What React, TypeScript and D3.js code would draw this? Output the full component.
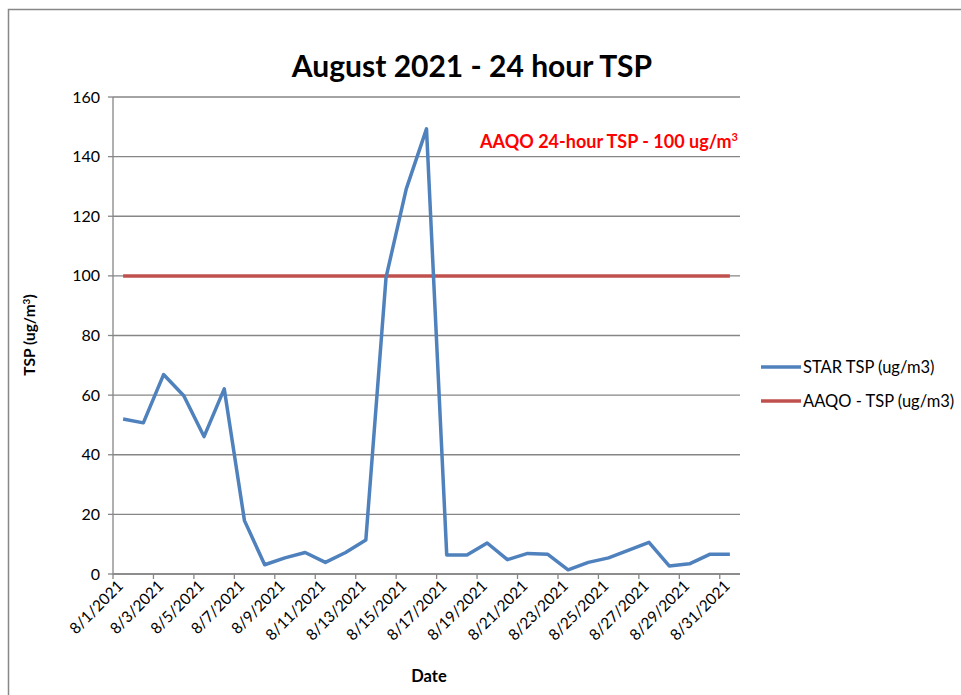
import React from "react";
import * as d3 from "d3";

const dates: string[] = Array.from({ length: 31 }, (_, i) => `8/${i + 1}/2021`);
const starTSP: number[] = [
  52.0, 50.7, 66.9, 59.8, 46.1, 62.1, 17.9, 3.1, 5.4, 7.2, 3.9, 7.2, 11.4, 99.5, 129.2, 149.3,
  6.4, 6.4, 10.4, 4.8, 6.9, 6.6, 1.4, 3.9, 5.4, 8.0, 10.6, 2.7, 3.4, 6.6, 6.6,
];
const aaqoTSP: number[] = dates.map(() => 100);
const yTicks: number[] = [0, 20, 40, 60, 80, 100, 120, 140, 160];
const seriesNames: string[] = ["STAR TSP (ug/m3)", "AAQO - TSP (ug/m3)"];
const seriesColors: string[] = ["#4F81BD", "#C0504D"];

const FONT = "Lato, 'Open Sans', sans-serif";

export default function App() {
  const W = 961, H = 695;
  const left = 113, right = 740, top = 97, bottom = 574;
  const x = d3.scaleBand<string>().domain(dates).range([left, right]);
  const y = d3.scaleLinear().domain([0, 160]).range([bottom, top]);
  const cx = (d: string) => (x(d) as number) + x.bandwidth() / 2;
  const line = d3.line<number>().x((_, i) => cx(dates[i])).y((v) => y(v));
  const tickIdx = dates.map((_, i) => i).filter((i) => i % 2 === 0);

  return (
    <svg width={W} height={H} style={{ position: "absolute", left: 0, top: 0, background: "#fff" }}>
      <rect x={8.5} y={9.5} width={1000} height={800} fill="#fff" stroke="#888" strokeWidth={1.5} />
      {/* gridlines */}
      {yTicks.map((t) => (
        <line key={t} x1={left} x2={right} y1={y(t)} y2={y(t)} stroke="#868686" strokeWidth={1.3} />
      ))}
      {/* y axis */}
      <line x1={left} x2={left} y1={top} y2={bottom} stroke="#868686" strokeWidth={1.3} />
      {yTicks.map((t) => (
        <g key={"yt" + t}>
          <line x1={left - 5} x2={left} y1={y(t)} y2={y(t)} stroke="#868686" strokeWidth={1.3} />
          <text x={left - 13} y={y(t)} dy="0.35em" textAnchor="end" fontFamily={FONT} fontSize={16} fill="#000">
            {t}
          </text>
        </g>
      ))}
      {/* x axis */}
      <line x1={left} x2={right} y1={bottom} y2={bottom} stroke="#868686" strokeWidth={1.3} />
      {tickIdx.map((i) => (
        <line key={"xt" + i} x1={x(dates[i]) as number} x2={x(dates[i]) as number} y1={bottom} y2={bottom + 5} stroke="#868686" strokeWidth={1.3} />
      ))}
      {tickIdx.map((i) => (
        <text
          key={"xl" + i}
          transform={`translate(${cx(dates[i]) + 1},${bottom + 13}) rotate(-45)`}
          textAnchor="end"
          fontFamily={FONT}
          fontSize={15.5}
          fill="#000"
        >
          {dates[i]}
        </text>
      ))}
      {/* series */}
      <path d={line(aaqoTSP) || ""} fill="none" stroke={seriesColors[1]} strokeWidth={3.5} />
      <path d={line(starTSP) || ""} fill="none" stroke={seriesColors[0]} strokeWidth={3.5} strokeLinejoin="round" />
      {/* title */}
      <text x={472} y={77} textAnchor="middle" fontFamily={FONT} fontWeight="bold" fontSize={30} fill="#000">
        August 2021 - 24 hour TSP
      </text>
      {/* annotation */}
      <text x={738} y={148} textAnchor="end" fontFamily={FONT} fontWeight="bold" fontSize={18} fill="#FF0000">
        AAQO 24-hour TSP - 100 ug/m<tspan dy="-7" fontSize={11}>3</tspan>
      </text>
      {/* y title */}
      <text transform="translate(35,335) rotate(-90)" textAnchor="middle" fontFamily={FONT} fontWeight="bold" fontSize={15.5} fill="#000">
        TSP (ug/m<tspan dy="-5" fontSize={10}>3</tspan><tspan dy="5">)</tspan>
      </text>
      {/* x title */}
      <text x={429} y={682} textAnchor="middle" fontFamily={FONT} fontWeight="bold" fontSize={16.5} fill="#000">
        Date
      </text>
      {/* legend */}
      {seriesNames.map((n, i) => (
        <g key={n} transform={`translate(0,${367 + i * 34})`}>
          <line x1={761} x2={801} y1={0} y2={0} stroke={seriesColors[i]} strokeWidth={3.5} />
          <text x={803} y={0} dy="0.35em" fontFamily={FONT} fontSize={16.5} fill="#000">
            {n}
          </text>
        </g>
      ))}
    </svg>
  );
}
